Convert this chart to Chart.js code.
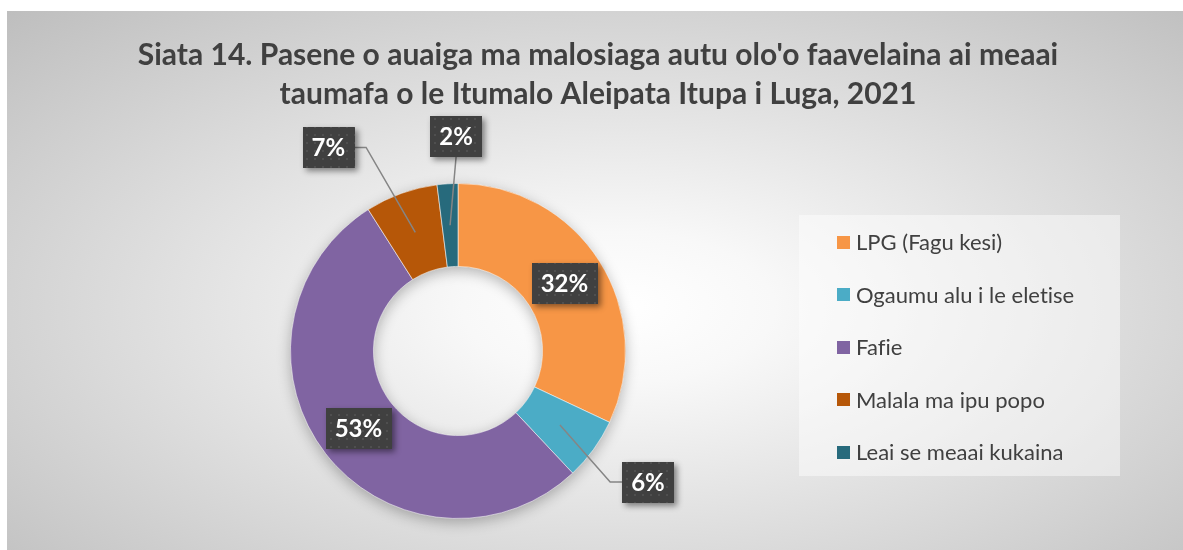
<!DOCTYPE html>
<html>
<head>
<meta charset="utf-8">
<script src="https://cdn.jsdelivr.net/npm/chart.js@4.4.1/dist/chart.umd.min.js"></script>
<style>
  html, body { margin: 0; padding: 0; background: #fff; }
  #frame {
    position: absolute; left: 7px; top: 11px; width: 1176px; height: 539px;
    background: radial-gradient(ellipse farthest-corner at 52% 55%, #ffffff 0%, #f8f8f8 18%, #bebebe 100%);
  }
  canvas { display: block; }
</style>
</head>
<body>
<div id="frame"><canvas id="c" width="1176" height="539"></canvas></div>
<script>
// chart values
const categories = ["LPG (Fagu kesi)", "Ogaumu alu i le eletise", "Fafie", "Malala ma ipu popo", "Leai se meaai kukaina"];
const shares = [32, 6, 53, 7, 2];
const sliceColors = ["#F79646", "#4BACC6", "#8064A2", "#B65708", "#276A7C"];
const titleLines = [
  "Siata 14. Pasene o auaiga ma malosiaga autu olo'o faavelaina ai meaai",
  "taumafa o le Itumalo Aleipata Itupa i Luga, 2021",
];
// where the callout boxes sit, relative to the slice centre (null = inside)
const calloutShift = [null, [88, 57], null, [-87, -85], [6, -89]];

const textCol = "#404040";
const font = "Lato, 'Open Sans', sans-serif";

function dotPattern(ctx) {
  const t = document.createElement("canvas");
  t.width = 8; t.height = 8;
  const g = t.getContext("2d");
  g.fillStyle = "#404040";
  g.fillRect(0, 0, 8, 8);
  g.fillStyle = "#4f4f4f";
  g.fillRect(3, 3, 2, 2);
  return ctx.createPattern(t, "repeat");
}

const ringShadow = {
  id: "ringShadow",
  beforeDatasetsDraw(chart) {
    const arc = chart.getDatasetMeta(0).data[0];
    if (!arc) return;
    const { x, y, innerRadius, outerRadius } = arc.getProps(["x", "y", "innerRadius", "outerRadius"], true);
    const ctx = chart.ctx;
    ctx.save();
    ctx.shadowColor = "rgba(0,0,0,0.28)";
    ctx.shadowBlur = 14;
    ctx.shadowOffsetY = 4;
    ctx.fillStyle = "#999";
    ctx.beginPath();
    ctx.arc(x, y, outerRadius, 0, Math.PI * 2);
    ctx.arc(x, y, innerRadius, 0, Math.PI * 2, true);
    ctx.fill();
    ctx.restore();
  },
};

const callouts = {
  id: "callouts",
  afterDatasetsDraw(chart) {
    const ctx = chart.ctx;
    const pat = dotPattern(ctx);
    const items = [];
    chart.getDatasetMeta(0).data.forEach((arc, i) => {
      const p = arc.getProps(["x", "y", "startAngle", "endAngle", "innerRadius", "outerRadius"], true);
      const mid = (p.startAngle + p.endAngle) / 2;
      const r = (p.innerRadius + p.outerRadius) / 2;
      const ax = p.x + Math.cos(mid) * r;
      const ay = p.y + Math.sin(mid) * r;
      const sh = calloutShift[i];
      const bx = sh ? ax + sh[0] : ax;
      const by = sh ? ay + sh[1] : ay;
      const txt = shares[i] + "%";
      ctx.font = "bold 24px " + font;
      const w = ctx.measureText(txt).width + 18;
      const h = 41;
      items.push({ ax, ay, bx, by, w, h, txt, leader: !!sh });
    });

    // leader lines first
    ctx.save();
    ctx.strokeStyle = "#858585";
    ctx.lineWidth = 1.5;
    items.forEach((it) => {
      if (!it.leader) return;
      const left = it.bx - it.w / 2, right = it.bx + it.w / 2;
      ctx.beginPath();
      ctx.moveTo(it.ax, it.ay);
      if (it.ax > right + 10) {
        ctx.lineTo(right + 12, it.by);
        ctx.lineTo(right, it.by);
      } else if (it.ax < left - 10) {
        ctx.lineTo(left - 12, it.by);
        ctx.lineTo(left, it.by);
      } else {
        ctx.lineTo(it.bx, it.by + (it.ay > it.by ? it.h / 2 : -it.h / 2));
      }
      ctx.stroke();
    });
    ctx.restore();

    items.forEach((it) => {
      const x0 = Math.round(it.bx - it.w / 2), y0 = Math.round(it.by - it.h / 2);
      ctx.save();
      ctx.shadowColor = "rgba(0,0,0,0.45)";
      ctx.shadowBlur = 6;
      ctx.shadowOffsetX = 3;
      ctx.shadowOffsetY = 3;
      ctx.fillStyle = "#404040";
      ctx.fillRect(x0, y0, Math.round(it.w), it.h);
      ctx.restore();
      ctx.save();
      ctx.fillStyle = pat;
      ctx.fillRect(x0, y0, Math.round(it.w), it.h);
      ctx.fillStyle = "#ffffff";
      ctx.font = "bold 24px " + font;
      ctx.textAlign = "center";
      ctx.textBaseline = "middle";
      ctx.fillText(it.txt, it.bx, it.by + 1);
      ctx.restore();
    });
  },
};

const titleAndLegend = {
  id: "titleAndLegend",
  afterDraw(chart) {
    const ctx = chart.ctx;
    ctx.save();
    // tiny spacing keeps "fi" from turning into a ligature
    if ("letterSpacing" in ctx) ctx.letterSpacing = "0.01px";
    ctx.fillStyle = textCol;
    ctx.font = "bold 30px " + font;
    ctx.textAlign = "center";
    ctx.textBaseline = "middle";
    titleLines.forEach((line, i) => ctx.fillText(line, 591, 44 + i * 39));

    // legend panel
    ctx.fillStyle = "rgba(255,255,255,0.45)";
    ctx.fillRect(792, 204, 321, 261);
    ctx.font = "22px " + font;
    ctx.textAlign = "left";
    categories.forEach((name, i) => {
      const cy = 231 + i * 52.5;
      ctx.fillStyle = sliceColors[i];
      ctx.fillRect(830, Math.round(cy - 6.5), 13, 13);
      ctx.fillStyle = textCol;
      ctx.fillText(name, 849, cy + 1);
    });
    ctx.restore();
  },
};

new Chart(document.getElementById("c"), {
  type: "doughnut",
  data: {
    labels: categories,
    datasets: [
      {
        data: shares,
        backgroundColor: sliceColors,
        borderColor: "rgba(255,255,255,0.55)",
        borderWidth: 1,
      },
    ],
  },
  options: {
    responsive: false,
    animation: false,
    events: [],
    cutout: "50.5%",
    layout: { padding: { top: 172, bottom: 31, left: 283, right: 557 } },
    plugins: {
      legend: { display: false },
      title: { display: false },
      tooltip: { enabled: false },
    },
  },
  plugins: [ringShadow, callouts, titleAndLegend],
});
</script>
</body>
</html>
